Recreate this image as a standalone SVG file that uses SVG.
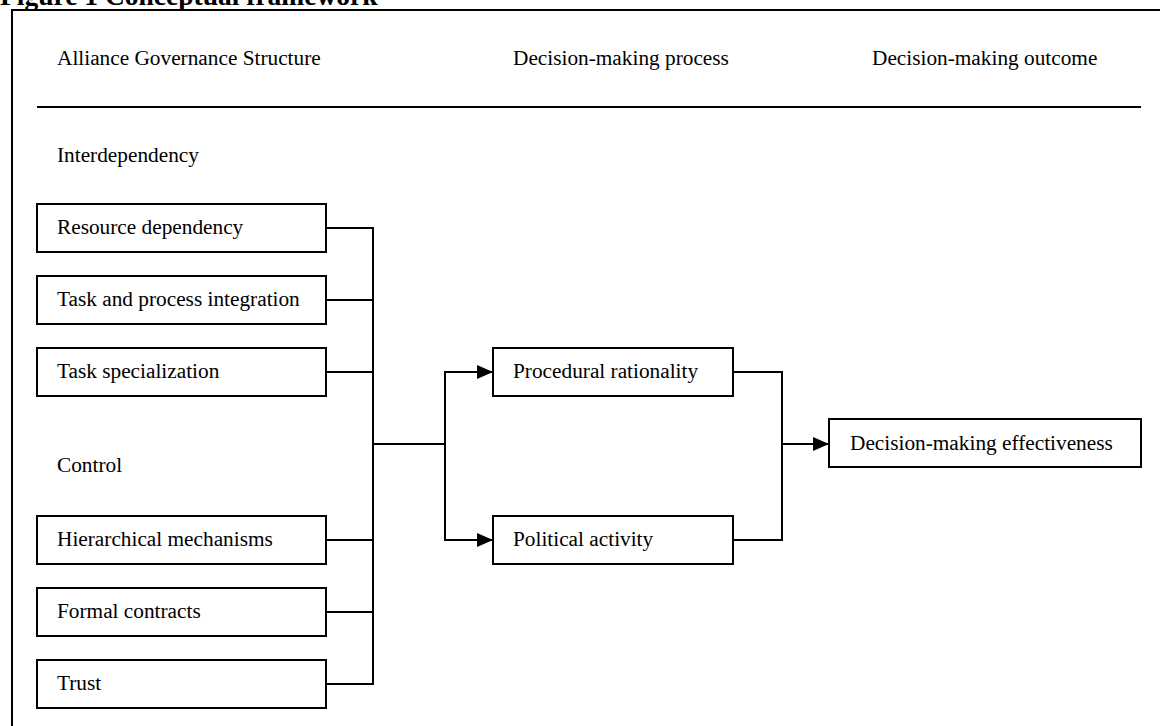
<svg xmlns="http://www.w3.org/2000/svg" width="1160" height="726" viewBox="0 0 1160 726">
<defs>
<style>
text{font-family:"Liberation Serif","Times New Roman",serif;font-size:21.3px;fill:#000}
.title{font-weight:bold;font-size:27.5px}
.box{fill:#fff;stroke:#000;stroke-width:2}
.ln{fill:none;stroke:#000;stroke-width:2}
</style>
<marker id="ah" markerWidth="16" markerHeight="14" refX="16" refY="7" orient="auto" markerUnits="userSpaceOnUse">
<path d="M0,0 L16,7 L0,14 Z" fill="#000"/>
</marker>
</defs>
<rect width="1160" height="726" fill="#fff"/>
<text class="title" x="0" y="5">Figure 1 Conceptual framework</text>
<g id="frame">
<path class="ln" d="M12,727 L12,10 L1161,10"/>
<line class="ln" x1="37" y1="107" x2="1141" y2="107"/>
</g>
<g id="headers">
<text x="57" y="65">Alliance Governance Structure</text>
<text x="513" y="65">Decision-making process</text>
<text x="872" y="65">Decision-making outcome</text>
<text x="57" y="162">Interdependency</text>
<text x="57" y="472">Control</text>
</g>
<g id="n1"><rect class="box" x="37" y="204" width="289" height="48"/><text x="57" y="234">Resource dependency</text></g>
<g id="n2"><rect class="box" x="37" y="276" width="289" height="48"/><text x="57" y="306">Task and process integration</text></g>
<g id="n3"><rect class="box" x="37" y="348" width="289" height="48"/><text x="57" y="378">Task specialization</text></g>
<g id="n4"><rect class="box" x="37" y="516" width="289" height="48"/><text x="57" y="546">Hierarchical mechanisms</text></g>
<g id="n5"><rect class="box" x="37" y="588" width="289" height="48"/><text x="57" y="618">Formal contracts</text></g>
<g id="n6"><rect class="box" x="37" y="660" width="289" height="48"/><text x="57" y="690">Trust</text></g>
<g id="n7"><rect class="box" x="493" y="348" width="240" height="48"/><text x="513" y="378">Procedural rationality</text></g>
<g id="n8"><rect class="box" x="493" y="516" width="240" height="48"/><text x="513" y="546">Political activity</text></g>
<g id="n9"><rect class="box" x="829" y="419" width="312" height="48"/><text x="850" y="450">Decision-making effectiveness</text></g>
<g id="connectors">
<path class="ln" d="M326,228 H373 M326,300 H373 M326,372 H373 M326,540 H373 M326,612 H373 M326,684 H373 M373,227 V685"/>
<path class="ln" d="M373,444 H445 M445,371 V541"/>
<path class="ln" d="M445,372 H493" marker-end="url(#ah)"/>
<path class="ln" d="M445,540 H493" marker-end="url(#ah)"/>
<path class="ln" d="M733,372 H782 V540 H733"/>
<path class="ln" d="M782,444 H829" marker-end="url(#ah)"/>
</g>
</svg>
